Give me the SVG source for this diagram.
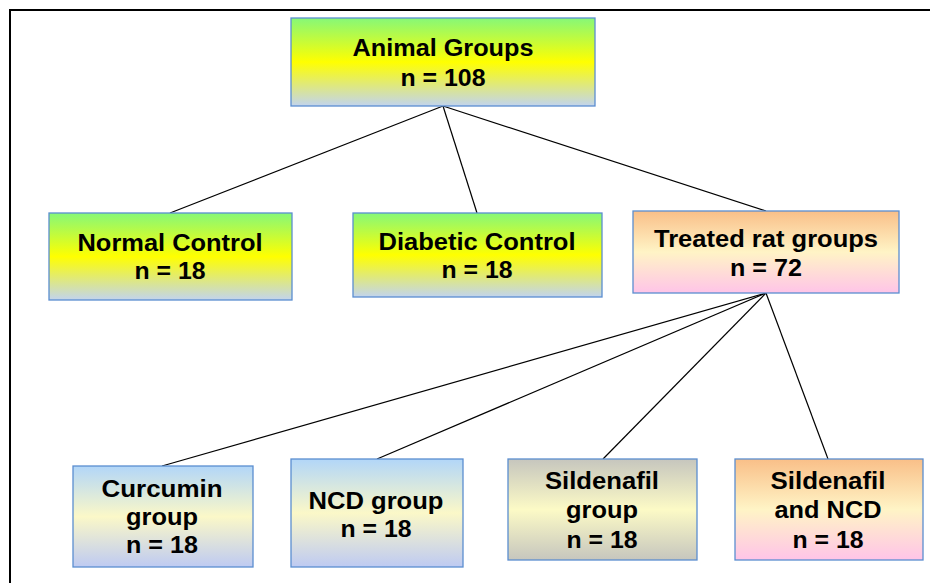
<svg xmlns="http://www.w3.org/2000/svg" width="930" height="583" viewBox="0 0 930 583">
<defs>
<linearGradient id="gy" x1="0" y1="0" x2="0" y2="1">
<stop offset="0" stop-color="#86F878"/><stop offset="0.5" stop-color="#FFFF00"/><stop offset="1" stop-color="#C2D4EE"/>
</linearGradient>
<linearGradient id="op" x1="0" y1="0" x2="0" y2="1">
<stop offset="0" stop-color="#F9BF88"/><stop offset="0.5" stop-color="#FFF4C6"/><stop offset="1" stop-color="#FFC4E8"/>
</linearGradient>
<linearGradient id="bl" x1="0" y1="0" x2="0" y2="1">
<stop offset="0" stop-color="#B2D6F8"/><stop offset="0.5" stop-color="#FBF8C8"/><stop offset="1" stop-color="#BECAF2"/>
</linearGradient>
<linearGradient id="gr" x1="0" y1="0" x2="0" y2="1">
<stop offset="0" stop-color="#C6C6BE"/><stop offset="0.5" stop-color="#FCFAC6"/><stop offset="1" stop-color="#C6C6BE"/>
</linearGradient>
</defs>
<style>
.box{stroke:#5B8ED0;stroke-width:1.3}
.t{font-family:"Liberation Sans",Arial,sans-serif;font-weight:bold;font-size:23px;fill:#000;text-anchor:middle}
.c{stroke:#000;stroke-width:1.2;fill:none}
</style>
<rect x="0" y="0" width="930" height="583" fill="#fff"/>
<path d="M10,583 V10 H930" fill="none" stroke="#000" stroke-width="2"/>
<g id="connectors">
<line class="c" x1="443" y1="106" x2="170" y2="213"/>
<line class="c" x1="443" y1="106" x2="477" y2="213"/>
<line class="c" x1="443" y1="106" x2="766" y2="211"/>
<line class="c" x1="766" y1="293" x2="162" y2="466"/>
<line class="c" x1="766" y1="293" x2="377" y2="459"/>
<line class="c" x1="766" y1="293" x2="603" y2="459"/>
<line class="c" x1="766" y1="293" x2="828" y2="459"/>
</g>
<g id="animal">
<rect class="box" x="291" y="18" width="304" height="88" fill="url(#gy)"/>
<text class="t" x="443" y="56" textLength="181" lengthAdjust="spacingAndGlyphs">Animal Groups</text>
<text class="t" x="443" y="86" textLength="85" lengthAdjust="spacingAndGlyphs">n = 108</text>
</g>
<g id="normal">
<rect class="box" x="49" y="213" width="243" height="87" fill="url(#gy)"/>
<text class="t" x="170" y="251" textLength="185" lengthAdjust="spacingAndGlyphs">Normal Control</text>
<text class="t" x="170" y="279" textLength="71" lengthAdjust="spacingAndGlyphs">n = 18</text>
</g>
<g id="diabetic">
<rect class="box" x="353" y="213" width="249" height="84" fill="url(#gy)"/>
<text class="t" x="477" y="250" textLength="197" lengthAdjust="spacingAndGlyphs">Diabetic Control</text>
<text class="t" x="477" y="278" textLength="71" lengthAdjust="spacingAndGlyphs">n = 18</text>
</g>
<g id="treated">
<rect class="box" x="633" y="211" width="266" height="82" fill="url(#op)"/>
<text class="t" x="766" y="247" textLength="224" lengthAdjust="spacingAndGlyphs">Treated rat groups</text>
<text class="t" x="766" y="276" textLength="72" lengthAdjust="spacingAndGlyphs">n = 72</text>
</g>
<g id="curcumin">
<rect class="box" x="73" y="466" width="180" height="101" fill="url(#bl)"/>
<text class="t" x="162" y="497" textLength="121" lengthAdjust="spacingAndGlyphs">Curcumin</text>
<text class="t" x="162" y="525" textLength="72" lengthAdjust="spacingAndGlyphs">group</text>
<text class="t" x="162" y="553" textLength="72" lengthAdjust="spacingAndGlyphs">n = 18</text>
</g>
<g id="ncd">
<rect class="box" x="291" y="459" width="172" height="108" fill="url(#bl)"/>
<text class="t" x="376" y="509" textLength="135" lengthAdjust="spacingAndGlyphs">NCD group</text>
<text class="t" x="376" y="537" textLength="71" lengthAdjust="spacingAndGlyphs">n = 18</text>
</g>
<g id="sildenafil">
<rect class="box" x="508" y="459" width="189" height="101" fill="url(#gr)"/>
<text class="t" x="602" y="489" textLength="114" lengthAdjust="spacingAndGlyphs">Sildenafil</text>
<text class="t" x="602" y="518" textLength="72" lengthAdjust="spacingAndGlyphs">group</text>
<text class="t" x="602" y="548" textLength="71" lengthAdjust="spacingAndGlyphs">n = 18</text>
</g>
<g id="sildenafil-ncd">
<rect class="box" x="735" y="459" width="188" height="101" fill="url(#op)"/>
<text class="t" x="828" y="489" textLength="115" lengthAdjust="spacingAndGlyphs">Sildenafil</text>
<text class="t" x="828" y="518" textLength="107" lengthAdjust="spacingAndGlyphs">and NCD</text>
<text class="t" x="828" y="548" textLength="71" lengthAdjust="spacingAndGlyphs">n = 18</text>
</g>
</svg>
